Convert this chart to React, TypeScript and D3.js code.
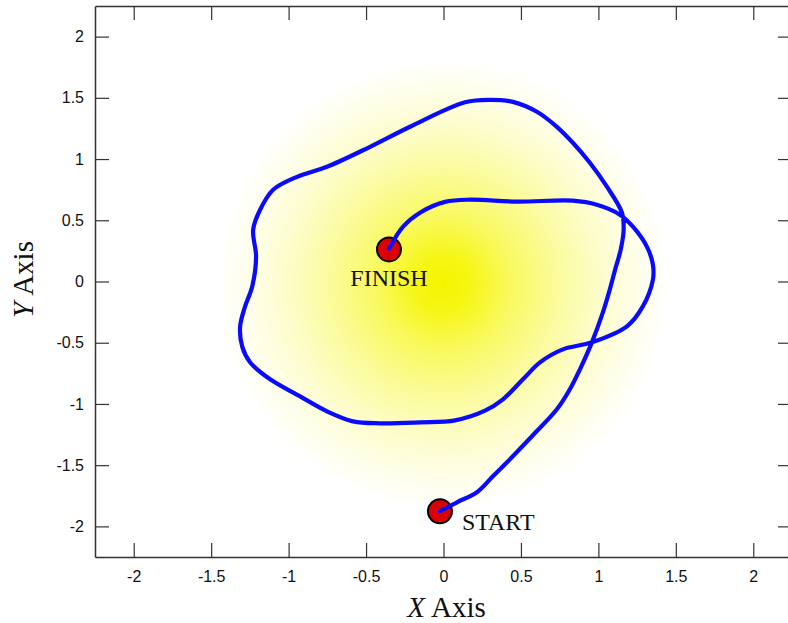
import React, { useRef, useEffect } from 'react';
import * as d3 from 'd3';

// trajectory, START -> FINISH
const pathX = [
  -0.023, 0.087, 0.216, 0.319, 0.41, 0.571, 0.732, 0.816, 0.881, 0.958, 1.029, 1.074, 1.108, 1.144,
  1.163, 1.152, 1.055, 0.945, 0.835, 0.732, 0.603, 0.448, 0.3, 0.139, -0.216, -0.474, -0.752,
  -0.945, -1.1, -1.184, -1.229, -1.21, -1.235, -1.281, -1.313, -1.3, -1.248, -1.119, -0.926, -0.752,
  -0.584, -0.41, -0.152, 0.074, 0.268, 0.384, 0.513, 0.623, 0.771, 0.958, 1.184, 1.287, 1.352, 1.352,
  1.313, 1.223, 1.139, 0.99, 0.835, 0.474, 0.171, 0.01, -0.152, -0.261, -0.352,
];
const pathY = [
  -1.876, -1.803, -1.721, -1.591, -1.476, -1.264, -1.044, -0.88, -0.717, -0.497, -0.252, -0.064, 0.097,
  0.26, 0.423, 0.562, 0.774, 0.97, 1.133, 1.263, 1.386, 1.467, 1.484, 1.464, 1.264, 1.1, 0.937,
  0.855, 0.749, 0.586, 0.423, 0.203, -0.041, -0.204, -0.367, -0.53, -0.661, -0.799, -0.938, -1.06,
  -1.142, -1.158, -1.15, -1.134, -1.055, -0.962, -0.799, -0.66, -0.554, -0.497, -0.366, -0.203, 0.016,
  0.138, 0.285, 0.448, 0.546, 0.627, 0.66, 0.652, 0.668, 0.65, 0.562, 0.448, 0.268,
];

const markerLabels = ['START', 'FINISH'];
const markerX = [-0.023, -0.352];
const markerY = [-1.876, 0.262];

const tickValues = [-2, -1.5, -1, -0.5, 0, 0.5, 1, 1.5, 2];
const domain: [number, number] = [-2.25, 2.25];

const W = 788;
const H = 623;
const margin = { top: 6, right: -4, bottom: 66, left: 95 };

export default function App() {
  const svgRef = useRef<SVGSVGElement>(null);

  useEffect(() => {
    if (!svgRef.current) return;
    const svg = d3.select(svgRef.current);
    svg.selectAll('*').remove();

    const x = d3.scaleLinear().domain(domain).range([margin.left, W - margin.right]);
    const y = d3.scaleLinear().domain(domain).range([H - margin.bottom, margin.top]);
    const x0 = x.range()[0], x1 = x.range()[1];
    const y0 = y.range()[0], y1 = y.range()[1];

    // yellow glow behind the path
    const defs = svg.append('defs');
    const grad = defs.append('radialGradient')
      .attr('id', 'glow')
      .attr('gradientUnits', 'userSpaceOnUse')
      .attr('cx', x(0)).attr('cy', y(-0.02))
      .attr('r', 226);
    [
      [0, '#f4f400'], [0.12, '#f6f615'], [0.3, '#f9f960'], [0.5, '#fbfb9c'],
      [0.7, '#fdfdcc'], [0.87, '#fefeec'], [1, '#ffffff'],
    ].forEach(([o, c]) => grad.append('stop').attr('offset', o as number).attr('stop-color', c as string));

    svg.append('clipPath').attr('id', 'plotclip')
      .append('rect').attr('x', x0).attr('y', y1).attr('width', x1 - x0).attr('height', y0 - y1);

    const plot = svg.append('g').attr('clip-path', 'url(#plotclip)');
    plot.append('rect')
      .attr('x', x0).attr('y', y1).attr('width', x1 - x0).attr('height', y0 - y1)
      .attr('fill', 'url(#glow)');

    const pts: [number, number][] = pathX.map((v, i) => [v, pathY[i]]);
    const line = d3.line<[number, number]>()
      .x(d => x(d[0]))
      .y(d => y(d[1]))
      .curve(d3.curveCatmullRom.alpha(0.5));

    plot.append('path')
      .datum(pts)
      .attr('d', line)
      .attr('fill', 'none')
      .attr('stroke', '#0a0aff')
      .attr('stroke-width', 4.2)
      .attr('stroke-linejoin', 'round')
      .attr('stroke-linecap', 'round');

    // markers drawn under the path end
    const mk = plot.insert('g', 'path');
    markerX.forEach((mx, i) => {
      mk.append('circle')
        .attr('cx', x(mx)).attr('cy', y(markerY[i]))
        .attr('r', 12)
        .attr('fill', '#dd0000')
        .attr('stroke', '#000')
        .attr('stroke-width', 2);
    });

    const serif = '"Liberation Serif", "Times New Roman", serif';
    plot.append('text')
      .attr('x', x(markerX[0]) + 22).attr('y', y(markerY[0]) + 19)
      .attr('font-family', serif).attr('font-size', 24).attr('fill', '#111')
      .text(markerLabels[0]);
    plot.append('text')
      .attr('x', x(markerX[1])).attr('y', y(markerY[1]) + 37)
      .attr('text-anchor', 'middle')
      .attr('font-family', serif).attr('font-size', 24).attr('fill', '#111')
      .text(markerLabels[1]);

    // axes box with inward ticks
    const axisCol = '#333';
    const tickLen = 14;
    const sans = 'Arial, "Liberation Sans", Helvetica, sans-serif';
    const fmt = (d: d3.NumberValue) => String(d);

    svg.append('g')
      .attr('transform', `translate(0,${y0})`)
      .call(d3.axisBottom(x).tickValues(tickValues).tickSizeInner(-tickLen).tickSizeOuter(0).tickPadding(14)
        .tickFormat(fmt))
      .call(g => g.select('.domain').attr('stroke', axisCol).attr('stroke-width', 1.5))
      .call(g => g.selectAll('.tick line').attr('stroke', axisCol).attr('stroke-width', 1.2))
      .call(g => g.selectAll('.tick text').attr('font-size', 16).attr('font-family', sans).attr('fill', '#111'));

    svg.append('g')
      .attr('transform', `translate(${x0},0)`)
      .call(d3.axisLeft(y).tickValues(tickValues).tickSizeInner(-tickLen).tickSizeOuter(0).tickPadding(11)
        .tickFormat(fmt))
      .call(g => g.select('.domain').attr('stroke', axisCol).attr('stroke-width', 1.5))
      .call(g => g.selectAll('.tick line').attr('stroke', axisCol).attr('stroke-width', 1.2))
      .call(g => g.selectAll('.tick text').attr('font-size', 16).attr('font-family', sans).attr('fill', '#111'));

    svg.append('g')
      .attr('transform', `translate(0,${y1})`)
      .call(d3.axisTop(x).tickValues(tickValues).tickSizeInner(-tickLen).tickSizeOuter(0).tickFormat(() => ''))
      .call(g => g.select('.domain').attr('stroke', axisCol).attr('stroke-width', 1.5))
      .call(g => g.selectAll('.tick line').attr('stroke', axisCol).attr('stroke-width', 1.2));

    svg.append('g')
      .attr('transform', `translate(${x1},0)`)
      .call(d3.axisRight(y).tickValues(tickValues).tickSizeInner(-tickLen).tickSizeOuter(0).tickFormat(() => ''))
      .call(g => g.select('.domain').attr('stroke', axisCol).attr('stroke-width', 1.5))
      .call(g => g.selectAll('.tick line').attr('stroke', axisCol).attr('stroke-width', 1.2));

    // axis titles
    const xt = svg.append('text')
      .attr('x', x(0) + 3).attr('y', 617)
      .attr('text-anchor', 'middle')
      .attr('font-family', serif).attr('font-size', 29).attr('fill', '#111');
    xt.append('tspan').attr('font-style', 'italic').text('X');
    xt.append('tspan').attr('dx', 6).text('Axis');

    const yt = svg.append('text')
      .attr('transform', `translate(33,${y(0) - 2}) rotate(-90)`)
      .attr('text-anchor', 'middle')
      .attr('font-family', serif).attr('font-size', 29).attr('fill', '#111');
    yt.append('tspan').attr('font-style', 'italic').text('Y');
    yt.append('tspan').attr('dx', 6).text('Axis');
  }, []);

  return (
    <svg
      ref={svgRef}
      width={W}
      height={H}
      style={{ position: 'absolute', left: 0, top: 0, background: '#fff' }}
    />
  );
}
